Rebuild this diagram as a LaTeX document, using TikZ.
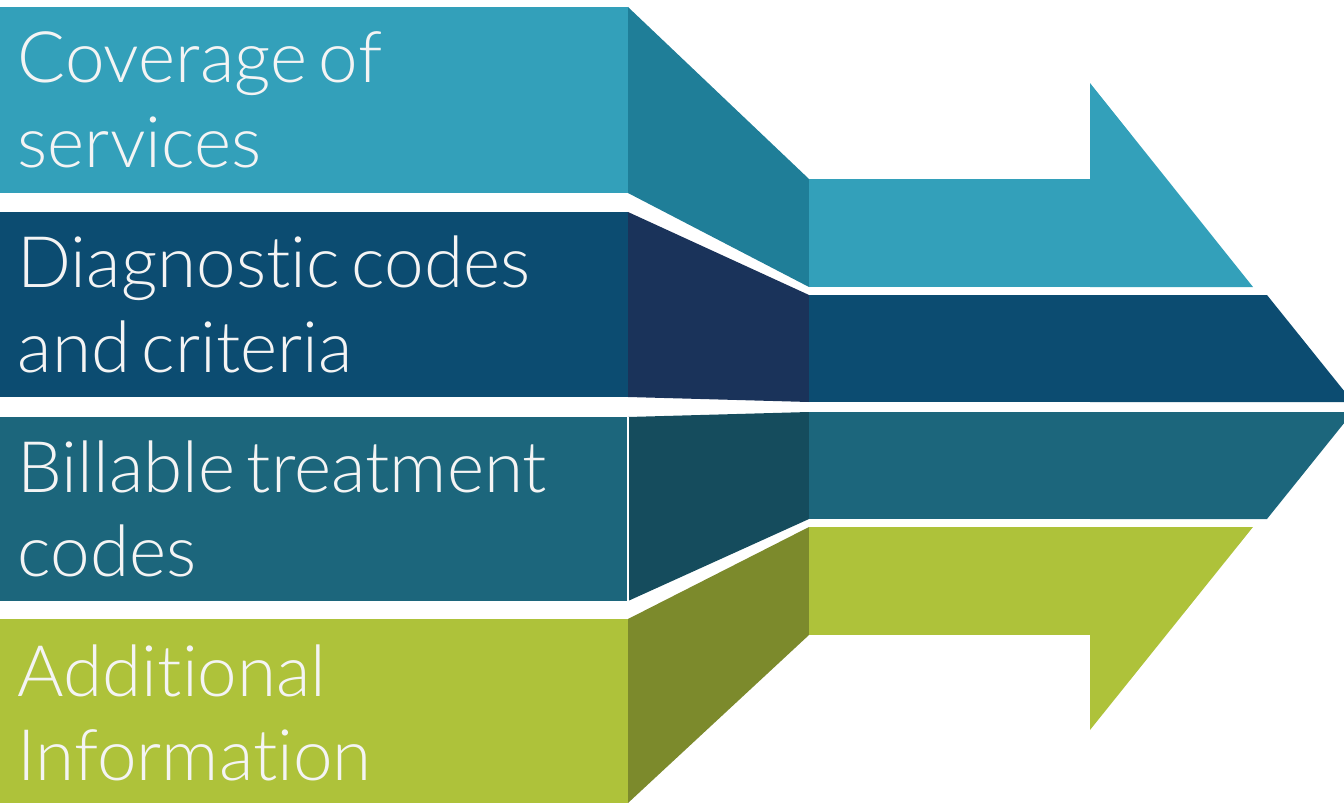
\documentclass[tikz,border=0pt]{standalone}
\usepackage{fontspec}
\newfontfamily\lightfont{Lato Light}[Ligatures={NoCommon,NoRare,NoDiscretionary}, WordSpace=0.6]
\usetikzlibrary{positioning}

\definecolor{covlight}{HTML}{33A0BA}
\definecolor{covdark}{HTML}{1F7E98}
\definecolor{diaglight}{HTML}{0C4C71}
\definecolor{diagdark}{HTML}{1A335A}
\definecolor{billlight}{HTML}{1C667C}
\definecolor{billdark}{HTML}{154C5D}
\definecolor{addlight}{HTML}{AEC23A}
\definecolor{adddark}{HTML}{7C8A2C}
\definecolor{textgray}{HTML}{F4F4F4}

\begin{document}
\begin{tikzpicture}[x=0.01cm, y=-0.01cm,
    bandtext/.style={anchor=base west, inner sep=0pt, align=left, text=textgray,
        font=\lightfont\fontsize{20.2}{23.9}\selectfont}]
    \useasboundingbox (0,0) rectangle (1344,803);
    \clip (0,0) rectangle (1344,803);

    % Left blocks
    \foreach \y/\h/\c in {7/193/covlight, 212/397/diaglight, 417/601/billlight, 619/803/addlight} {
        \fill[\c] (0,\y) rectangle (628,\h);
    }

    % Slanted joints
    \fill[covdark] (628,7) -- (809,179) -- (809,287) -- (628,193) -- cycle;
    \fill[diagdark] (628,212) -- (809,295) -- (809,402) -- (628,397) -- cycle;
    \fill[billdark] (628,417) -- (809,412) -- (809,519) -- (628,601) -- cycle;
    \fill[adddark] (628,619) -- (809,527) -- (809,635) -- (628,803) -- cycle;
    \draw[white, line width=0.6pt] (628,417) -- (628,601);

    % Shaft
    \foreach \y/\h/\c in {179/287/covlight, 295/402/diaglight, 412/519/billlight, 527/635/addlight} {
        \fill[\c] (809,\y) rectangle (1090,\h);
    }

    % Arrow head
    \fill[covlight] (1090,83) -- (1253,287) -- (1090,287) -- cycle;
    \fill[diaglight] (1090,295) -- (1267,295) -- (1353,402) -- (1090,402) -- cycle;
    \fill[billlight] (1090,412) -- (1353,412) -- (1267,519) -- (1090,519) -- cycle;
    \fill[addlight] (1090,527) -- (1253,527) -- (1090,730) -- cycle;

    % Labels (anchored on the second line)
    \node[bandtext] (coverage) at (17,167) {Coverage of\\services};
    \node[bandtext] (diagnostic) at (17,372) {Diagnostic codes\\and criteria};
    \node[bandtext] (billable) at (17,577) {Billable treatment\\codes};
    \node[bandtext] (additional) at (17,781) {Additional\\Information};
\end{tikzpicture}
\end{document}
